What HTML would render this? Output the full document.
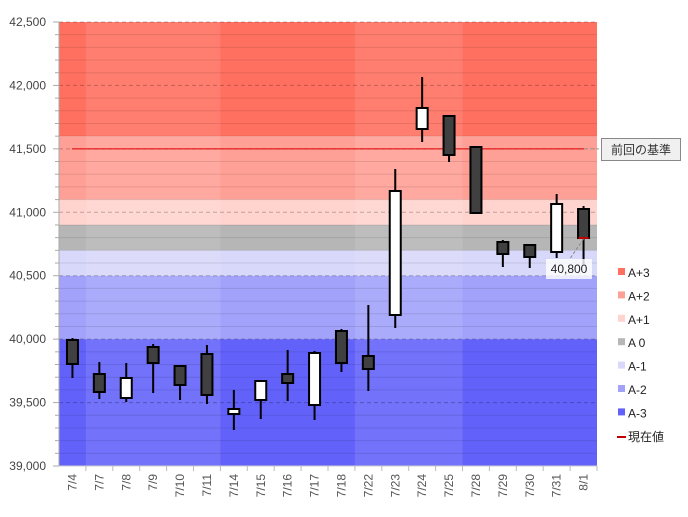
<!DOCTYPE html>
<html><head><meta charset="utf-8"><style>
body{margin:0;background:#fff;font-family:"Liberation Sans","Noto Sans CJK JP",sans-serif}
</style></head><body>
<svg id="s" width="688" height="512" xmlns="http://www.w3.org/2000/svg" font-family="Liberation Sans, Noto Sans CJK JP, sans-serif"></svg>
<script>
const s=document.getElementById('s');let h='';
const X0=59,X1=597,Y0=22,Y1=466,k=444/3500;
const Y=v=>Y0+(42500-v)*k;
const bands=[[42500,41600,'#ff7060'],[41600,41100,'#ffa096'],[41100,40900,'#ffd4cf'],[40900,40700,'#b6b6b6'],[40700,40500,'#d8d8fa'],[40500,40000,'#a2a2fb'],[40000,39000,'#6262fb']];
bands.forEach(b=>{h+=`<rect x="${X0}" y="${Y(b[0])}" width="${X1-X0}" height="${Y(b[1])-Y(b[0])}" fill="${b[2]}"/>`});
const cw=(X1-X0)/20;
[[1,5],[11,4]].forEach(g=>{h+=`<rect x="${X0+cw*g[0]}" y="${Y0}" width="${cw*g[1]}" height="${Y1-Y0}" fill="#fff" opacity="0.1"/>`});
for(let v=39100;v<42500;v+=100){const y=Y(v);if(v%500==0)h+=`<line x1="${X0}" x2="${X1}" y1="${y}" y2="${y}" stroke="#000" stroke-opacity="0.25" stroke-dasharray="4,3"/>`;else h+=`<line x1="${X0}" x2="${X1}" y1="${y}" y2="${y}" stroke="#000" stroke-opacity="0.1"/>`;}
h+=`<line x1="${X0}" x2="${X1}" y1="${Y0}" y2="${Y0}" stroke="#000" stroke-opacity="0.25" stroke-dasharray="4,3"/>`;
for(let v=39000;v<=42500;v+=100){const y=Y(v);h+=`<line x1="${v%500==0?53:55}" x2="${X0}" y1="${y}" y2="${y}" stroke="#aaa"/>`;if(v%500==0)h+=`<text x="46" y="${y+4}" font-size="12" fill="#444" text-anchor="end">${v.toLocaleString('en-US')}</text>`;}
h+=`<line x1="${X0}" x2="${X0}" y1="${Y0}" y2="${Y1}" stroke="#aaa"/><line x1="${X0}" x2="${X1}" y1="${Y1}" y2="${Y1}" stroke="#ccc"/>`;
h+=`<line x1="72" x2="584" y1="${Y(41500)}" y2="${Y(41500)}" stroke="#e00000" stroke-width="1"/><line x1="584" x2="600" y1="${Y(41500)}" y2="${Y(41500)}" stroke="#999" stroke-dasharray="3,3"/>`;
const d=['7/4','7/7','7/8','7/9','7/10','7/11','7/14','7/15','7/16','7/17','7/18','7/22','7/23','7/24','7/25','7/28','7/29','7/30','7/31','8/1'];
const c=[[340,364,338,378,1],[374,392,362,399,1],[378,398,363,402,0],[347,363,344,393,1],[366,385,366,400,1],[354,395,345,404,1],[409,414,390,430,0],[381,400,381,419,0],[374,383,350,401,1],[353,405,351,420,0],[331,363,329,372,1],[356,369,305,391,1],[191,315,169,328,0],[108,129,77,142,0],[116,155,116,162,1],[147,213,146,213,1],[242,254,240,267,1],[245,257,245,268,1],[204,252,194,258,0],[209,238,206,264,1]];
d.forEach((t,i)=>{const cx=X0+cw*(i+0.5);h+=`<line x1="${X0+cw*(i+1)}" x2="${X0+cw*(i+1)}" y1="${Y1}" y2="${Y1+5}" stroke="#bbb"/>`;
h+=`<text transform="translate(${cx+4},${Y1+8}) rotate(-90)" font-size="12" fill="#555" text-anchor="end">${t}</text>`;
const q=c[i];h+=`<line x1="${cx}" x2="${cx}" y1="${q[2]}" y2="${q[3]}" stroke="#000" stroke-width="2"/><rect x="${cx-5.5}" y="${q[0]}" width="11" height="${q[1]-q[0]}" fill="${q[4]?'#404040':'#fff'}" stroke="#000" stroke-width="2"/>`;});
const lx=X0+cw*19.5;
h+=`<line x1="${lx-5}" x2="${lx+5}" y1="238" y2="238" stroke="#c00000" stroke-width="2"/><line x1="${lx}" x2="569" y1="239" y2="260" stroke="#888" stroke-dasharray="3,2"/>`;
h+=`<rect x="546" y="259" width="46" height="20" fill="#fff" opacity="0.8"/><text x="569" y="273" font-size="12" fill="#222" text-anchor="middle">40,800</text>`;
h+=`<rect x="601.5" y="138.5" width="79" height="22" fill="#f0f0f0" stroke="#888"/><text x="641" y="154" font-size="12" fill="#333" text-anchor="middle">前回の基準</text>`;
const lg=[['A+3','#ff7060'],['A+2','#ffa096'],['A+1','#ffd4cf'],['A 0','#b6b6b6'],['A-1','#d8d8fa'],['A-2','#a2a2fb'],['A-3','#6262fb']];
lg.forEach((l,i)=>{const y=273+i*23.4;h+=`<rect x="618" y="${y-5}" width="7" height="7" fill="${l[1]}"/><text x="628" y="${y+4}" font-size="12" fill="#222">${l[0]}</text>`});
h+=`<line x1="617" x2="626" y1="437" y2="437" stroke="#c00000" stroke-width="2"/><text x="628" y="441" font-size="12" fill="#222">現在値</text>`;
s.innerHTML=h;
</script></body></html>
